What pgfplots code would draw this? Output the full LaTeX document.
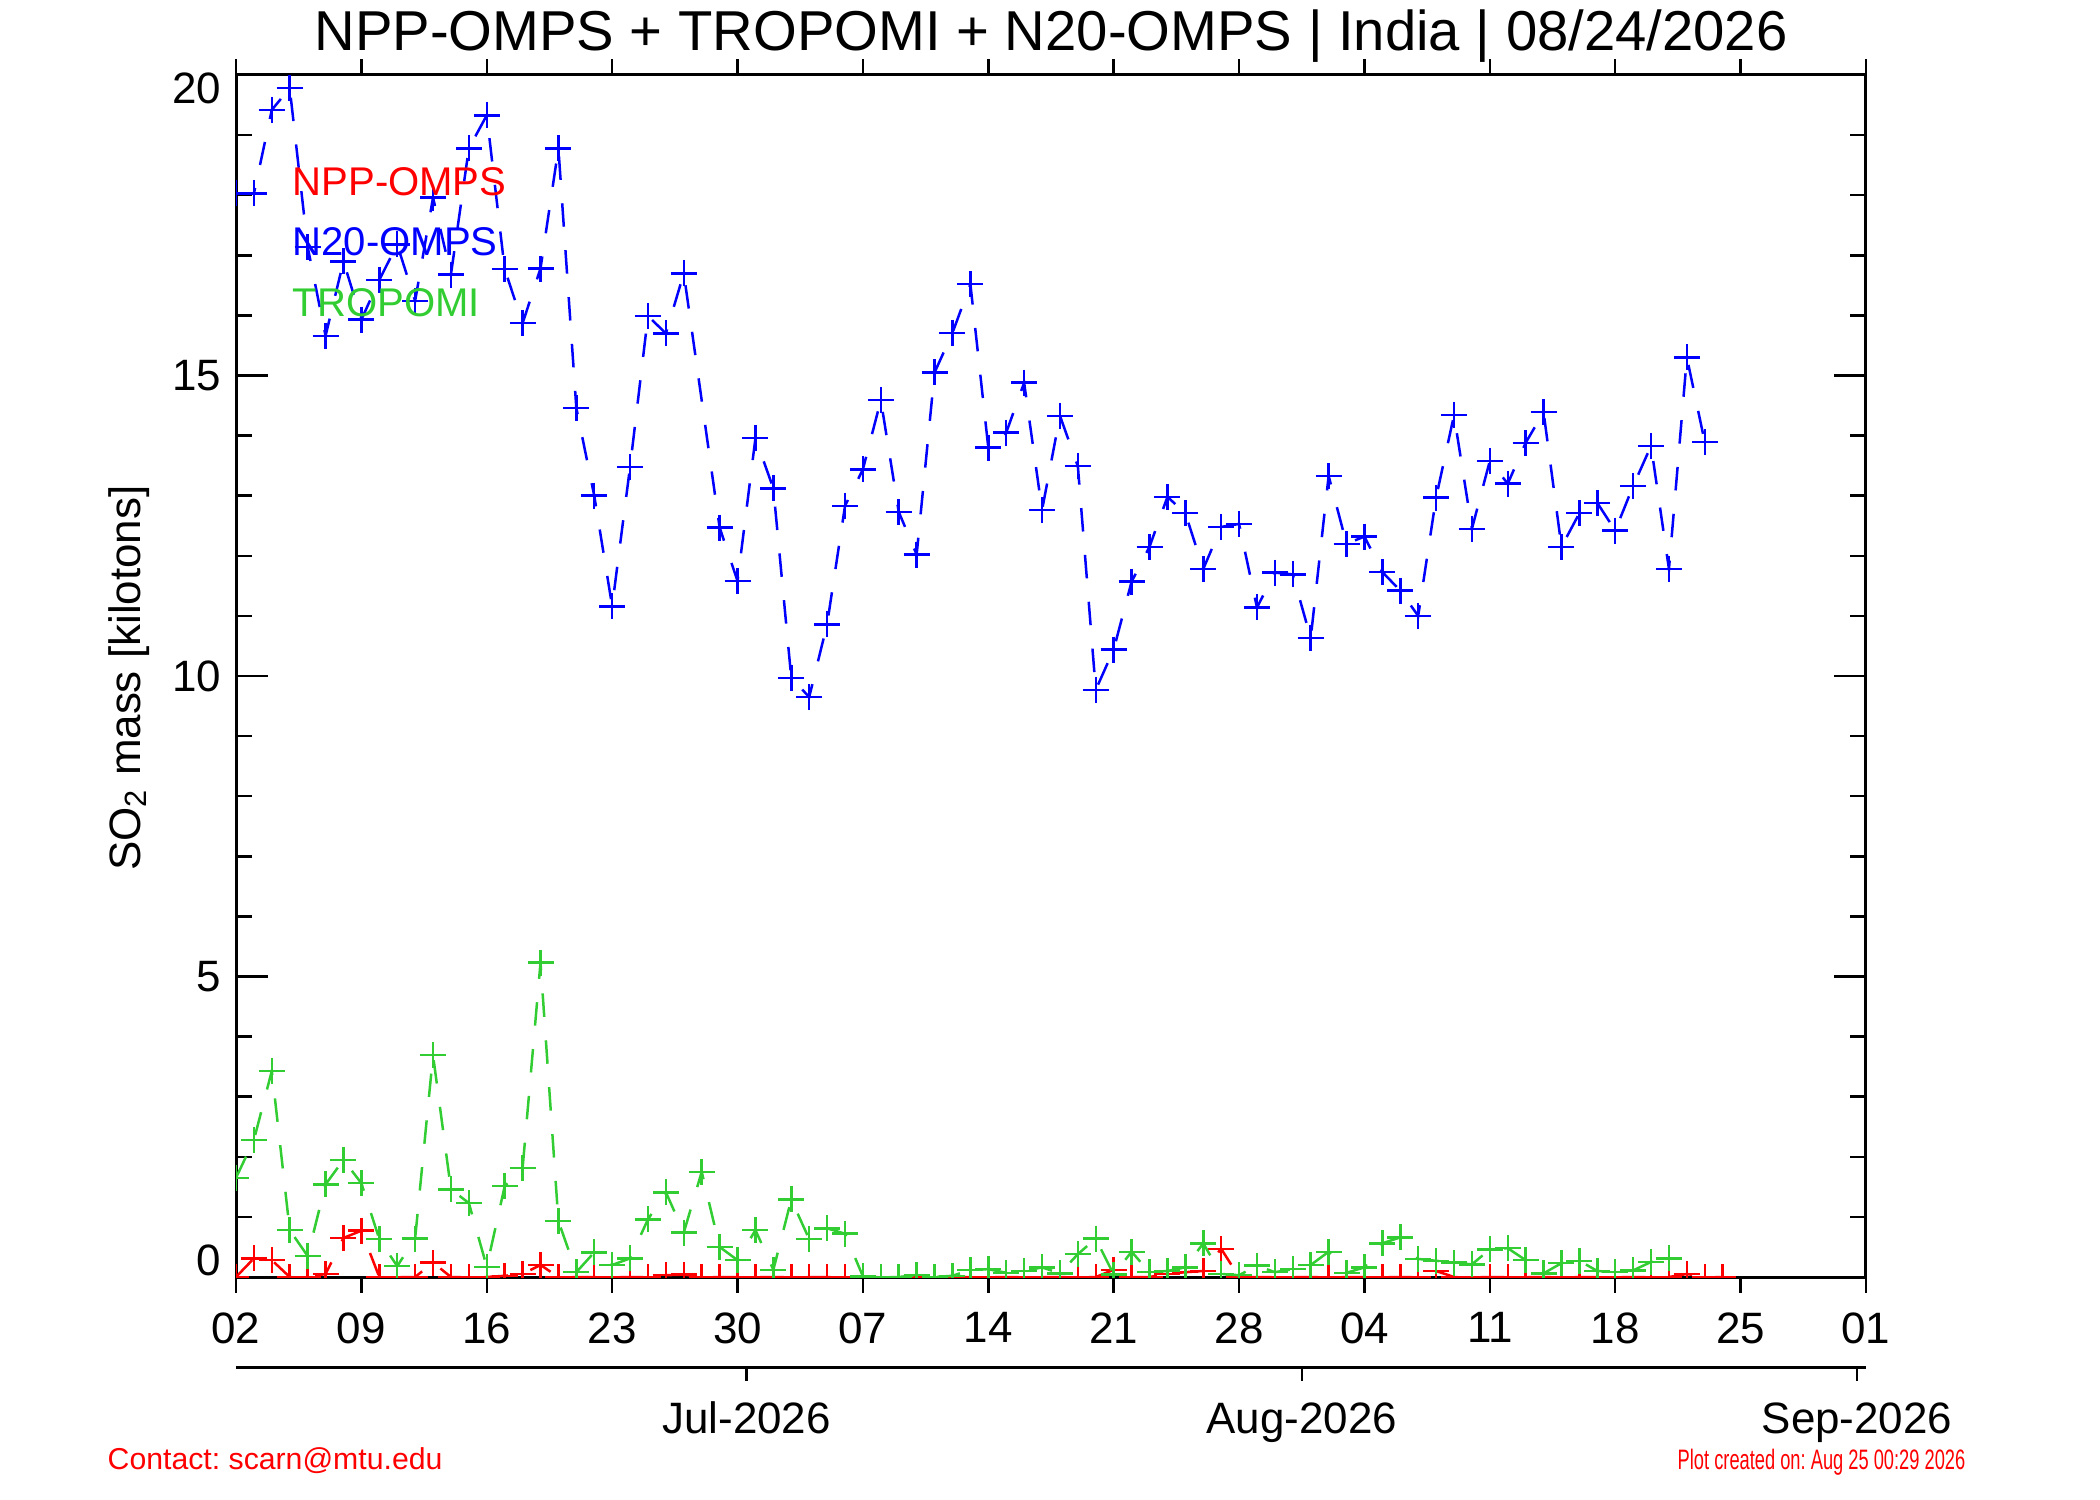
\documentclass[border=0pt]{standalone}
\usepackage{fontspec}
\setmainfont{Liberation Sans}
\usepackage{graphicx}
\usepackage{pgfplots}
\pgfplotsset{compat=1.18}
\definecolor{idlred}{RGB}{255,0,0}
\definecolor{idlblue}{RGB}{0,0,255}
\definecolor{idlgreen}{RGB}{50,205,50}
\frenchspacing

\pgfplotstableread{
day val
0 0
1 0.31
2 0.28
3 0
4 0
5 0.05
6 0.65
7 0.77
8 0
9 0
10 0
11 0.24
12 0
13 0
14 0
15 0.02
16 0.05
17 0.2
18 0
19 0
20 0
21 0
22 0
23 0
24 0.03
25 0.04
26 0
27 0
28 0
29 0
30 0
31 0
32 0
33 0
34 0
35 0
36 0
37 0
38 0
39 0
40 0
41 0
42 0
43 0
44 0
45 0
46 0
47 0
48 0
49 0.12
50 0
51 0
52 0.05
53 0.08
54 0.1
55 0.47
56 0
57 0
58 0
59 0
60 0
61 0
62 0
63 0
64 0
65 0
66 0
67 0.1
68 0
69 0
70 0
71 0
72 0
73 0
74 0
75 0
76 0
77 0
78 0
79 0
80 0
81 0.05
82 0
83 0
}\nppdata

\pgfplotstableread{
day val
0 18.03
1 18.03
2 19.42
3 19.78
4 17.14
5 15.66
6 16.90
7 15.93
8 16.59
9 17.18
10 16.24
11 17.96
12 16.68
13 18.78
14 19.33
15 16.77
16 15.87
17 16.78
18 18.78
19 14.46
20 13.00
21 11.16
22 13.48
23 15.99
24 15.70
25 16.70
27 12.47
28 11.58
29 13.96
30 13.12
31 9.97
32 9.65
33 10.86
34 12.83
35 13.44
36 14.59
37 12.73
38 12.02
39 15.05
40 15.71
41 16.52
42 13.80
43 14.05
44 14.88
45 12.76
46 14.33
47 13.49
48 9.77
49 10.44
50 11.57
51 12.15
52 12.98
53 12.71
54 11.78
55 12.48
56 12.53
57 11.14
58 11.72
59 11.69
60 10.63
61 13.33
62 12.20
63 12.32
64 11.73
65 11.42
66 11.00
67 12.97
68 14.34
69 12.45
70 13.58
71 13.20
72 13.88
73 14.39
74 12.15
75 12.71
76 12.88
77 12.42
78 13.16
79 13.83
80 11.78
81 15.30
82 13.89
}\nnodata

\pgfplotstableread{
day val
0 1.65
1 2.28
2 3.43
3 0.78
4 0.35
5 1.54
6 1.95
7 1.56
8 0.63
9 0.18
10 0.64
11 3.69
12 1.46
13 1.23
14 0.17
15 1.51
16 1.81
17 5.23
18 0.93
19 0.08
20 0.41
21 0.20
22 0.31
23 0.96
24 1.41
25 0.74
26 1.75
27 0.50
28 0.28
29 0.78
30 0.12
31 1.29
32 0.63
33 0.81
34 0.72
35 0.01
36 0.00
37 0.00
38 0.03
39 0.00
40 0.02
41 0.12
42 0.13
43 0.07
44 0.10
45 0.16
46 0.06
47 0.38
48 0.64
49 0.04
50 0.42
51 0.08
52 0.10
53 0.16
54 0.56
55 0.05
56 0.03
57 0.19
58 0.08
59 0.13
60 0.20
61 0.42
62 0.07
63 0.16
64 0.56
65 0.66
66 0.30
67 0.27
68 0.24
69 0.21
70 0.46
71 0.48
72 0.28
73 0.06
74 0.23
75 0.27
76 0.10
77 0.08
78 0.11
79 0.25
80 0.31
}\tropdata

\begin{document}
\begin{tikzpicture}
\useasboundingbox (0,0) rectangle (21cm,15cm);
\begin{axis}[
  at={(2.36cm,2.23cm)}, anchor=south west,
  scale only axis, width=16.30cm, height=12.02cm,
  xmin=0, xmax=91, ymin=0, ymax=20,
  axis line style={line width=0.3mm, black},
  xtick={0,7,...,91},
  xticklabels={02,09,16,23,30,07,14,21,28,04,11,18,25,01},
  xtick pos=both, xtick align=outside,
  ytick={0,5,10,15,20}, yticklabels={,5,10,15,},
  minor ytick={1,2,3,4,6,7,8,9,11,12,13,14,16,17,18,19},
  ytick pos=both, ytick align=inside,
  major tick length=3.2mm, minor tick length=1.6mm,
  xtick style={/pgfplots/major tick length=1.55mm},
  every tick/.style={black, line width=0.25mm},
  tick label style={font=\fontsize{12.5}{15}\selectfont, inner sep=0pt},
  yticklabel style={xshift=-1.4mm},
  xticklabel style={yshift=-0.3mm},
  clip marker paths=true,
  every axis plot/.append style={line width=0.25mm, dash pattern=on 2.35mm off 2.35mm,
     mark=+, mark size=1.3mm, mark options={solid, line width=0.25mm}},
]
\addplot[color=idlred] table[x=day, y=val] {\nppdata};
\addplot[color=idlblue] table[x=day, y=val] {\nnodata};
\addplot[color=idlgreen] table[x=day, y=val] {\tropdata};
\end{axis}
% y tick labels 0 and 20 (shifted inside as in the reference)
\node[anchor=south east, inner sep=0pt, font=\fontsize{12.5}{15}\selectfont] at (2.22cm,2.23cm) {0};
\node[anchor=north east, inner sep=0pt, font=\fontsize{12.5}{15}\selectfont] at (2.22cm,14.28cm) {20};
% title
\node[anchor=base, inner sep=0pt, font=\fontsize{16}{19}\selectfont] at (10.51cm,14.49cm)
  {NPP-OMPS + TROPOMI + N20-OMPS | India | 08/24/2026};
% y label
\node[anchor=base, rotate=90, inner sep=0pt, font=\fontsize{12.5}{15}\selectfont] at (1.40cm,8.22cm)
  {SO\textsubscript{2} mass [kilotons]};
% legend
\node[anchor=base west, inner sep=0pt, text=idlred, font=\fontsize{11.4}{13}\selectfont] at (2.92cm,13.04cm) {NPP-OMPS};
\node[anchor=base west, inner sep=0pt, text=idlblue, font=\fontsize{11.4}{13}\selectfont] at (2.92cm,12.44cm) {N20-OMPS};
\node[anchor=base west, inner sep=0pt, text=idlgreen, font=\fontsize{11.4}{13}\selectfont] at (2.92cm,11.83cm) {TROPOMI};
% month axis
\draw[line width=0.3mm] (2.36cm,1.32cm) -- (18.66cm,1.32cm);
\foreach \mx/\ml in {7.465/Jul-2026, 13.018/Aug-2026, 18.570/Sep-2026}{
  \draw[line width=0.25mm] (\mx cm,1.32cm) -- (\mx cm,1.19cm);
  \node[anchor=base, inner sep=0pt, font=\fontsize{12.5}{15}\selectfont] at (\mx cm,0.66cm) {\ml};
}
% footer
\node[anchor=base west, inner sep=0pt, text=idlred, font=\fontsize{8.6}{10}\selectfont] at (1.07cm,0.30cm) {Contact: scarn@mtu.edu};
\node[anchor=base east, inner sep=0pt, text=idlred, font=\fontsize{8}{10}\selectfont] at (19.66cm,0.31cm) {\scalebox{0.65}[1]{Plot created on: Aug 25 00:29 2026}};
\end{tikzpicture}
\end{document}
